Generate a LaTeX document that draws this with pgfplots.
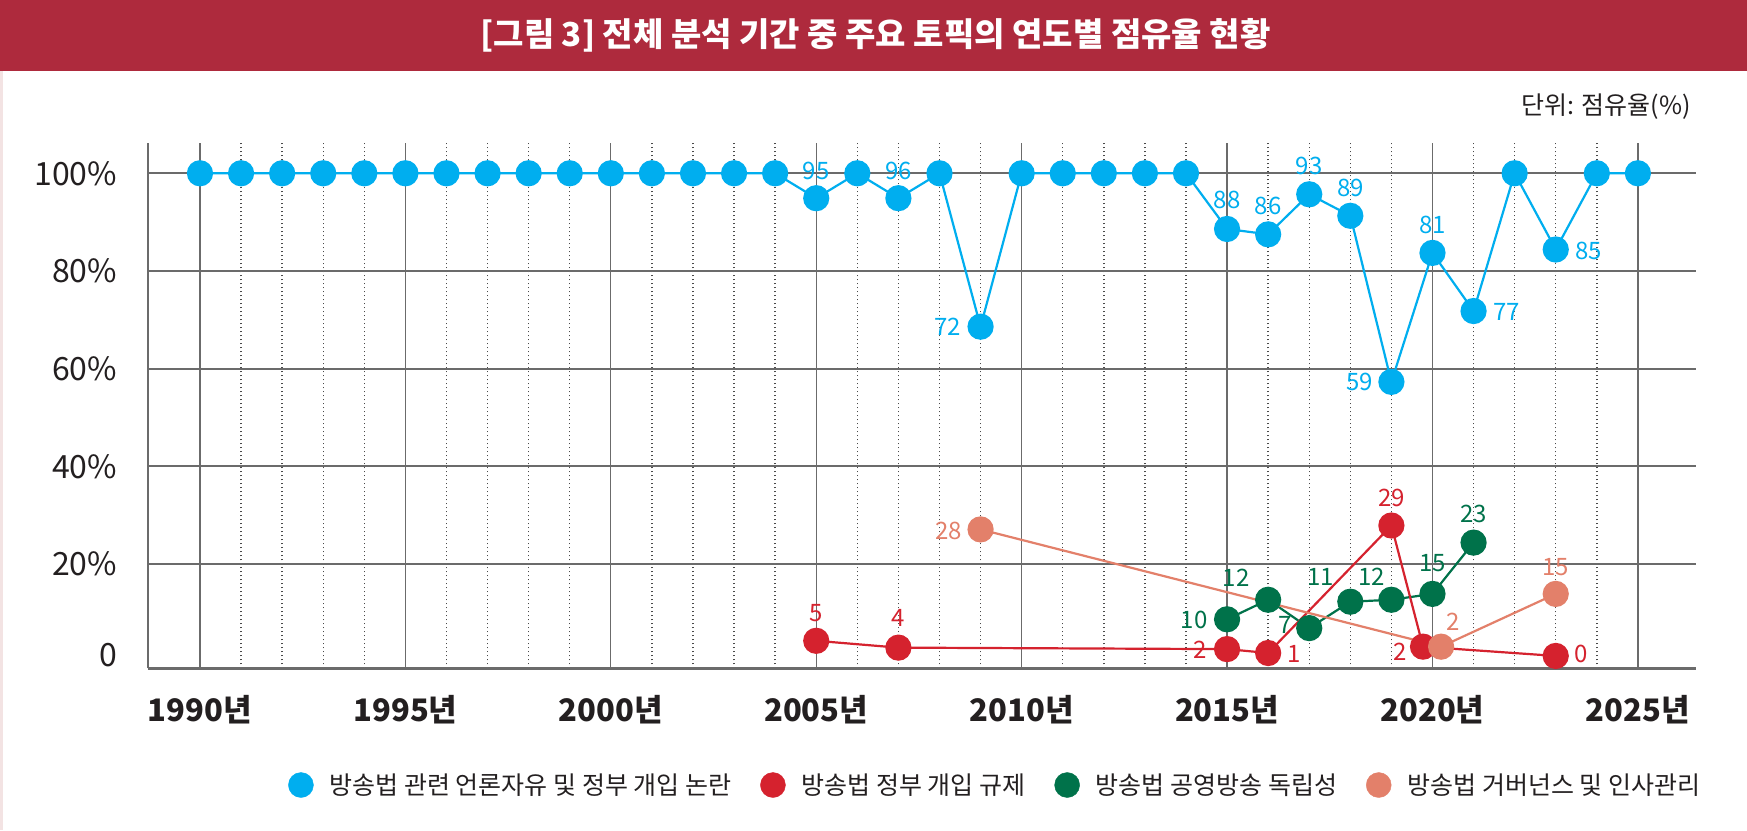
\documentclass[border=0pt]{standalone}
\usepackage{pgfplots}
\pgfplotsset{compat=1.18}
\usepackage{fontspec}
\setmainfont{Noto Sans CJK KR}

\definecolor{cBlue}{HTML}{00AEEF}
\definecolor{cRed}{HTML}{D5222E}
\definecolor{cGreen}{HTML}{00724A}
\definecolor{cSalmon}{HTML}{E3806A}
\definecolor{cBar}{HTML}{AE2A3D}
\definecolor{cText}{HTML}{231F20}
\definecolor{cGrid}{HTML}{6B6B6B}
\definecolor{cDot}{HTML}{4A4A4A}
\definecolor{cPink}{HTML}{F3E3E3}

\pgfplotsset{
  series/.style={
    #1, line width=2.2pt, mark=*, mark size=12pt,
    mark options={draw=none, fill=#1},
    forget plot,
    nodes near coords, point meta=explicit symbolic,
    visualization depends on={\thisrow{dx}\as\ldx},
    visualization depends on={\thisrow{dy}\as\ldy},
    every node near coord/.append style={text=#1, font=\fontsize{24}{26}\selectfont,
      anchor=center, inner sep=0pt, xshift=\ldx, yshift=\ldy},
  },
}

\begin{document}
\begin{tikzpicture}[x=1pt,y=1pt]
\useasboundingbox (0,0) rectangle (1747,830);
\fill[white] (0,0) rectangle (1747,830);
\fill[cBar] (0,758.5) rectangle (1747,830);
\fill[cPink] (0,0) rectangle (3,758.5);
\node[text=white, inner sep=0pt, font=\fontsize{33}{38}\selectfont\bfseries] at (875.5,795) {[그림 3] 전체 분석 기간 중 주요 토픽의 연도별 점유율 현황};
\node[anchor=east, inner sep=0pt, text=cText, font=\fontsize{25}{28}\selectfont] at (1691,723) {단위: 점유율(\%)};
\begin{axis}[
  at={(148.3pt,161.7pt)}, anchor=south west,
  scale only axis, width=1547.5pt, height=525.3pt,
  xmin=1988.742, xmax=2026.41, ymin=-1.33, ymax=106.2,
  clip=false,
  axis x line*=bottom, axis y line*=left,
  x axis line style={-, draw=cGrid, line width=3pt},
  y axis line style={-, draw=cGrid, line width=2pt},
  xtick={1990,1995,...,2025},
  xticklabels={1990년,1995년,2000년,2005년,2010년,2015년,2020년,2025년},
  minor x tick num=4,
  ytick={20,40,60,80,100},
  yticklabels={20\%,40\%,60\%,80\%,100\%},
  extra y ticks={0}, extra y tick labels={0},
  extra y tick style={grid=none, yticklabel style={yshift=7pt}},
  major tick length=0pt, minor tick length=0pt,
  xmajorgrids, xminorgrids, ymajorgrids,
  major x grid style={draw=cGrid, line width=1.2pt},
  minor x grid style={draw=cDot, line width=1.4pt, dash pattern=on 1.5pt off 2.5pt},
  major y grid style={draw=cGrid, line width=1.8pt},
  /pgf/number format/assume math mode=true,
  xticklabel style={text=cText, font=\fontsize{31}{34}\selectfont\bfseries, anchor=center, inner sep=0pt, yshift=-41.7pt},
  yticklabel style={text=cText, font=\fontsize{32}{34}\selectfont, anchor=east, inner sep=0pt, xshift=-31pt},
  legend style={at={(0.0903,-0.2222)}, anchor=west, draw=none, fill=none, inner sep=0pt,
    legend columns=4, font=\fontsize{25}{28}\selectfont, text=cText,
    /tikz/every odd column/.append style={column sep=14pt},
    /tikz/every even column/.append style={column sep=27pt}},
  legend cell align=left,
]
\addlegendimage{legend image code/.code={\fill[cBlue] (0pt,0pt) circle (12.5pt);}}
\addlegendentry{방송법 관련 언론자유 및 정부 개입 논란}
\addlegendimage{legend image code/.code={\fill[cRed] (0pt,0pt) circle (12.5pt);}}
\addlegendentry{방송법 정부 개입 규제}
\addlegendimage{legend image code/.code={\fill[cGreen] (0pt,0pt) circle (12.5pt);}}
\addlegendentry{방송법 공영방송 독립성}
\addlegendimage{legend image code/.code={\fill[cSalmon] (0pt,0pt) circle (12.5pt);}}
\addlegendentry{방송법 거버넌스 및 인사관리}

\addplot[series=cBlue] table[x=x, y=y, meta=lab] {
x y lab dx dy
1990 100 {} 0 0
1991 100 {} 0 0
1992 100 {} 0 0
1993 100 {} 0 0
1994 100 {} 0 0
1995 100 {} 0 0
1996 100 {} 0 0
1997 100 {} 0 0
1998 100 {} 0 0
1999 100 {} 0 0
2000 100 {} 0 0
2001 100 {} 0 0
2002 100 {} 0 0
2003 100 {} 0 0
2004 100 {} 0 0
2005 94.9 95 0 27
2006 100 {} 0 0
2007 94.9 96 0 27
2008 100 {} 0 0
2009 68.6 72 -33 0
2010 100 {} 0 0
2011 100 {} 0 0
2012 100 {} 0 0
2013 100 {} 0 0
2014 100 {} 0 0
2015 88.6 88 0 29
2016 87.5 86 0 28
2017 95.7 93 0 28
2018 91.3 89 0 28
2019 57.3 59 -32 0
2020 83.7 81 0 28
2021 71.8 77 33 -1
2022 100 {} 0 0
2023 84.4 85 33 -1
2024 100 {} 0 0
2025 100 {} 0 0
};
\addplot[series=cGreen] table[x=x, y=y, meta=lab] {
x y lab dx dy
2015 8.7 10 -33 -1
2016 12.7 12 -32 22
2017 6.9 7 -24 3
2018 12.3 11 -30 25
2019 12.7 12 -20 23
2020 13.9 15 0 31
2021 24.4 23 0 29
};
\addplot[series=cRed] table[x=x, y=y, meta=lab] {
x y lab dx dy
2005 4.3 5 0 28
2007 2.9 4 0 30
2015 2.6 2 -27 -1
2016 1.8 1 26 -1
2019 27.9 29 0 28
2019.77 3.1 2 -23 -5
2023 1.2 0 25 2
};
\addplot[series=cSalmon] table[x=x, y=y, meta=lab] {
x y lab dx dy
2009 27.1 28 -32 -2
2020.21 3.1 2 12 25
2023 13.9 15 0 27
};
\end{axis}
\end{tikzpicture}
\end{document}
